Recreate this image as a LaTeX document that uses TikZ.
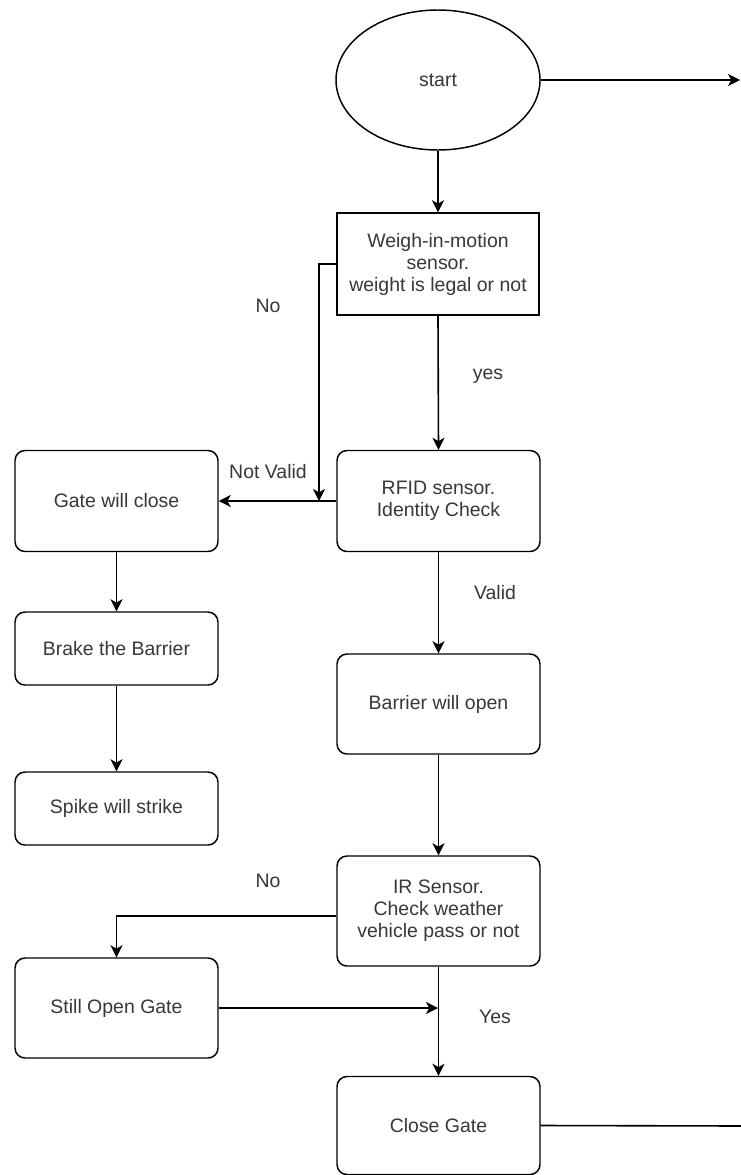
\documentclass[tikz,border=0pt]{standalone}
\usepackage{fontspec}
\setmainfont{Liberation Sans}
\usetikzlibrary{arrows.meta,shapes.geometric}
\begin{document}
\begin{tikzpicture}[x=0.75pt,y=-0.75pt,
  every node/.style={font=\fontsize{14.6}{16.5}\selectfont, text=black!78},
  box/.style={draw=black, line width=1.1pt, rounded corners=7.5pt, minimum width=152.25pt, align=center, inner sep=2pt},
  sbox/.style={draw=black, line width=1.1pt, minimum width=151.5pt, minimum height=76.5pt, align=center, inner sep=2pt},
  conn/.style={draw=black, line width=1.2pt},
  arr/.style={conn, -{Stealth[length=9pt,width=9pt,inset=2.5pt]}},
  lbl/.style={inner sep=0pt}]
\useasboundingbox (0,0) rectangle (740,1175);
\fill[white] (0,0) rectangle (740,1175);

\node[draw=black, line width=1.1pt, ellipse, minimum width=153pt, minimum height=105pt, inner sep=0pt] (start) at (438,80) {start};
\node[sbox] (weigh) at (438,264) {Weigh-in-motion\\sensor.\\weight is legal or not};
\node[box, minimum height=75.75pt] (rfid) at (438.5,501) {RFID sensor.\\Identity Check};
\node[box, minimum height=75.75pt] (gate) at (116.5,501) {Gate will close};
\node[box, minimum height=54.75pt] (brake) at (116.5,648.5) {Brake the Barrier};
\node[box, minimum height=54.75pt] (spike) at (116.5,808.5) {Spike will strike};
\node[box, minimum height=75pt] (barrier) at (438.5,704) {Barrier will open};
\node[box, minimum height=82.5pt] (ir) at (438.5,911) {IR Sensor.\\Check weather\\vehicle pass or not};
\node[box, minimum height=75pt] (still) at (116.5,1008) {Still Open Gate};
\node[box, minimum height=73.5pt] (close) at (438.5,1125.5) {Close Gate};

\coordinate (startend) at (740,80);
\coordinate (nojoin) at (319,501);
\coordinate (yesjoin) at (438,1008);
\coordinate (closeend) at (745,1126);

\draw[arr] (start.east) -- (startend);
\draw[arr] (start.south) -- (weigh.north);
\draw[arr] (weigh.south) -- (rfid.north);
\draw[arr] (weigh.west) -| (nojoin);
\draw[arr] (rfid.west) -- (gate.east);
\draw[arr] (gate.south) -- (brake.north);
\draw[arr] (brake.south) -- (spike.north);
\draw[arr] (rfid.south) -- (barrier.north);
\draw[arr] (barrier.south) -- (ir.north);
\draw[arr] (ir.south) -- (close.north);
\draw[arr] ([yshift=-3.75pt]ir.west) -| (still.north);
\draw[arr] (still.east) -- (yesjoin);
\draw[conn] (close.east) -- (closeend);

\node[lbl] (l1) at (268,306) {No};
\node[lbl] (l2) at (488,376) {yes};
\node[lbl] (l3) at (268,472) {Not Valid};
\node[lbl] (l4) at (495,593) {Valid};
\node[lbl] (l5) at (268,881) {No};
\node[lbl] (l6) at (495,1017) {Yes};
\end{tikzpicture}
\end{document}
